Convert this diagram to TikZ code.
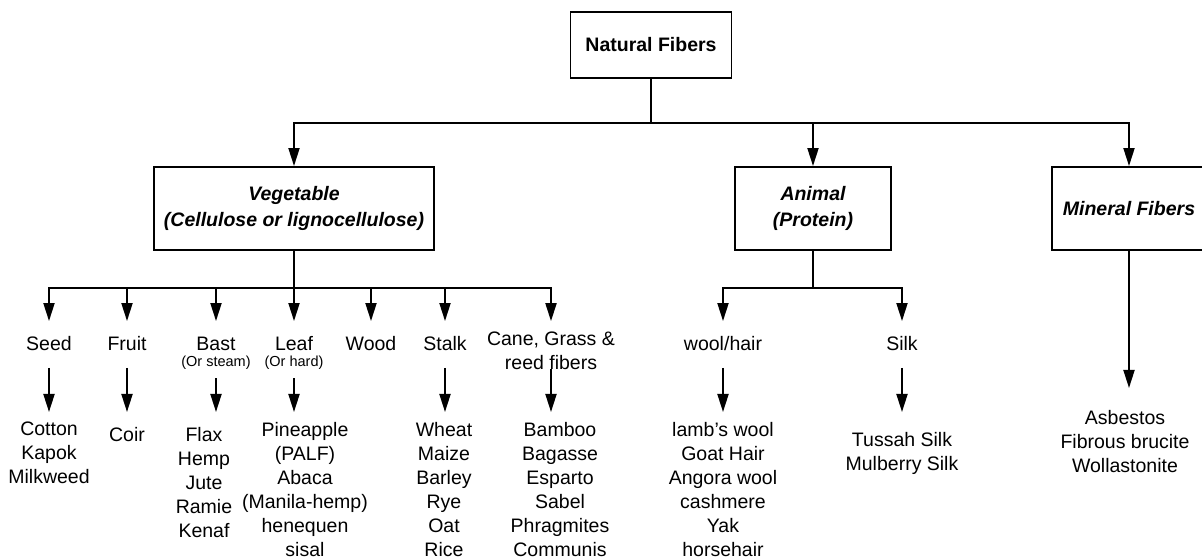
\documentclass[tikz,border=0pt]{standalone}
\usepackage{fontspec}
\setmainfont{Liberation Sans}
\usetikzlibrary{arrows.meta}
\tikzset{
	% ------- every something
	every path/.style={
		line width=1.9bp,
	},
	every node/.style={
		font=\fontsize{19.5bp}{24bp}\selectfont,
		inner sep=0pt,
	},
	% ------- custom
	vector/.style={
		-{Triangle[length=18bp,width=11bp]},
	},
	rootbox/.style={
		draw, align=center,
		font=\fontsize{19.5bp}{26bp}\selectfont\bfseries,
	},
	classbox/.style={
		draw, align=center,
		font=\fontsize{19.5bp}{26bp}\selectfont\bfseries\itshape,
	},
	kind/.style={
		text height=14bp, text depth=4bp,
	},
	kindnote/.style={
		font=\fontsize{14.5bp}{16bp}\selectfont,
		text height=10bp, text depth=3bp,
	},
	fibrelist/.style={
		anchor=north, align=center,
	},
}

\begin{document}
\begin{tikzpicture}[x=1bp, y=-1bp]

% parameters %{{{1

	\def\topbus{123}
	\def\subbus{288}

	\useasboundingbox (0,0) rectangle (1202,558);

% class boxes %{{{1

	\node[rootbox, minimum width=161bp, minimum height=66bp] (root) at (651,45) {Natural Fibers};

	\node[classbox, minimum width=280bp, minimum height=83bp] (veg) at (294,208.5)
		{Vegetable\\(Cellulose or lignocellulose)};
	\node[classbox, minimum width=156bp, minimum height=83bp] (anim) at (813,208.5)
		{Animal\\(Protein)};
	\node[classbox, minimum width=154bp, minimum height=83bp] (mineral) at (1129,208.5)
		{Mineral Fibers};

% kinds %{{{1

	\node[kind] (seed)  at (49,346)  {Seed};
	\node[kind] (fruit) at (127,346) {Fruit};
	\node[kind] (bast)  at (216,346) {Bast};
	\node[kindnote] (bastnote) at (216,363) {(Or steam)};
	\node[kind] (leaf)  at (294,346) {Leaf};
	\node[kindnote] (leafnote) at (294,363) {(Or hard)};
	\node[kind] (wood)  at (371,346) {Wood};
	\node[kind] (stalk) at (445,346) {Stalk};
	\node[align=center] (cane) at (551,351) {Cane, Grass \&\\reed fibers};

	\node[kind] (wool) at (723,346) {wool/hair};
	\node[kind] (silk) at (902,346) {Silk};

% fibre lists %{{{1

	\node[fibrelist] (cotton)  at (49,421)  {Cotton\\Kapok\\Milkweed};
	\node[fibrelist] (coir)    at (127,426) {Coir};
	\node[fibrelist] (flax)    at (204,426) {Flax\\Hemp\\Jute\\Ramie\\Kenaf};
	\node[fibrelist] (pine)    at (305,421) {Pineapple\\(PALF)\\Abaca\\(Manila-hemp)\\henequen\\sisal};
	\node[fibrelist] (wheat)   at (444,421) {Wheat\\Maize\\Barley\\Rye\\Oat\\Rice};
	\node[fibrelist] (bamboo)  at (560,421) {Bamboo\\Bagasse\\Esparto\\Sabel\\Phragmites\\Communis};

	\node[fibrelist] (lamb)    at (723,421) {lamb's wool\\Goat Hair\\Angora wool\\cashmere\\Yak\\horsehair};
	\node[fibrelist] (tussah)  at (902,431) {Tussah Silk\\Mulberry Silk};

	\node[fibrelist] (asbestos) at (1125,409) {Asbestos\\Fibrous brucite\\Wollastonite};

% buses %{{{1

	\coordinate (rootbus) at (651,\topbus);
	\coordinate (vegbus)  at (294,\subbus);
	\coordinate (animbus) at (813,\subbus);

	\draw (root.south) -- (rootbus);
	\draw[vector] (rootbus) -| (veg.north);
	\draw[vector] (rootbus) -| (anim.north);
	\draw[vector] (rootbus) -| (mineral.north);

	\draw (veg.south) -- (vegbus);
	\draw[vector, shorten >=15bp] (vegbus) -| (seed.north);
	\draw[vector, shorten >=15bp] (vegbus) -| (fruit.north);
	\draw[vector, shorten >=15bp] (vegbus) -| (bast.north);
	\draw[vector, shorten >=15bp] (vegbus) -| (leaf.north);
	\draw[vector, shorten >=15bp] (vegbus) -| (wood.north);
	\draw[vector, shorten >=15bp] (vegbus) -| (stalk.north);
	\draw[vector, shorten >=10bp] (vegbus) -| (cane.north);

	\draw (anim.south) -- (animbus);
	\draw[vector, shorten >=15bp] (animbus) -| (wool.north);
	\draw[vector, shorten >=15bp] (animbus) -| (silk.north);

% drops to lists %{{{1

	\draw[vector, shorten <=12bp, shorten >=9bp] (seed.south) -- (seed.south |- cotton.north);
	\draw[vector, shorten <=12bp, shorten >=14bp] (fruit.south) -- (fruit.south |- coir.north);
	\draw[vector, shorten <=8bp, shorten >=14bp] (bastnote.south) -- (bastnote.south |- flax.north);
	\draw[vector, shorten <=8bp, shorten >=9bp] (leafnote.south) -- (leafnote.south |- pine.north);
	\draw[vector, shorten <=12bp, shorten >=9bp] (stalk.south) -- (stalk.south |- wheat.north);
	\draw[vector, shorten <=-2bp, shorten >=9bp] (cane.south) -- (cane.south |- bamboo.north);

	\draw[vector, shorten <=12bp, shorten >=9bp] (wool.south) -- (wool.south |- lamb.north);
	\draw[vector, shorten <=12bp, shorten >=19bp] (silk.south) -- (silk.south |- tussah.north);

	\draw[vector, shorten >=21bp] (mineral.south) -- (mineral.south |- asbestos.north);

% closing %{{{1

\end{tikzpicture}
\end{document}
